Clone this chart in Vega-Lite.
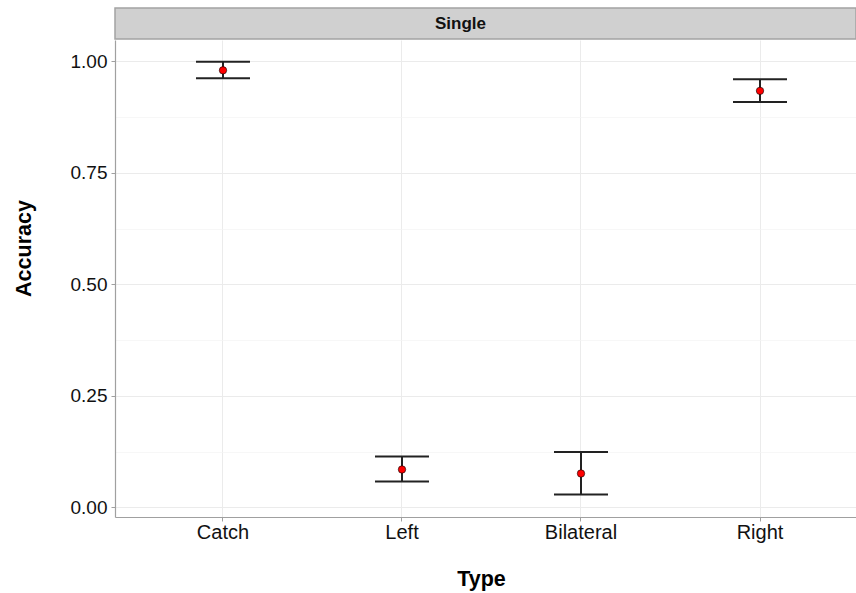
{
  "$schema": "https://vega.github.io/schema/vega-lite/v6.json",
  "autosize": {"type": "pad"},
  "padding": {"left": 13, "top": 7, "right": 0, "bottom": 4},
  "background": "white",
  "config": {
    "font": "Liberation Sans",
    "concat": {"spacing": 0}
  },
  "datasets": {
    "acc": [
      {"Type": "Catch", "mean": 0.980, "lower": 0.962, "upper": 0.999},
      {"Type": "Left", "mean": 0.085, "lower": 0.058, "upper": 0.114},
      {"Type": "Bilateral", "mean": 0.076, "lower": 0.029, "upper": 0.124},
      {"Type": "Right", "mean": 0.934, "lower": 0.909, "upper": 0.960}
    ],
    "strip": [{"panel": "Single"}]
  },
  "vconcat": [
    {
      "width": 741,
      "height": 31,
      "data": {"name": "strip"},
      "view": {"fill": "#d0d0d0", "stroke": "#a3a3a3", "strokeWidth": 1.5},
      "mark": {"type": "text", "fontWeight": "bold", "fontSize": 17, "color": "#111111", "dx": -25},
      "encoding": {"text": {"field": "panel"}}
    },
    {
      "width": 741,
      "height": 477,
      "data": {"name": "acc"},
      "view": {"stroke": null},
      "encoding": {
        "x": {
          "field": "Type",
          "type": "nominal",
          "sort": ["Catch", "Left", "Bilateral", "Right"],
          "scale": {"paddingInner": 0, "paddingOuter": 0.0698, "align": 0.74},
          "axis": {
            "title": "Type",
            "titleX": 366,
            "labelAngle": 0,
            "bandPosition": 0.5,
            "grid": true,
            "gridColor": "#ebebeb",
            "gridWidth": 1,
            "domainColor": "#a0a0a0",
            "domainWidth": 1.2,
            "tickColor": "#a0a0a0",
            "tickSize": 4,
            "labelFontSize": 20,
            "labelColor": "#111111",
            "labelPadding": 1,
            "titleFontSize": 21.5,
            "titleFontWeight": "bold",
            "titleColor": "#000000",
            "titlePadding": 26
          }
        },
        "y": {
          "type": "quantitative",
          "scale": {"domain": [-0.0215, 1.048], "nice": false, "zero": false}
        }
      },
      "layer": [
        {
          "mark": {"type": "rule", "color": "#222222", "strokeWidth": 2},
          "encoding": {
            "y": {
              "field": "lower",
              "type": "quantitative",
              "axis": {
                "title": "Accuracy",
                "titleY": 208,
                "values": [0, 0.125, 0.25, 0.375, 0.5, 0.625, 0.75, 0.875, 1],
                "labelExpr": "(datum.value * 4) % 1 === 0 ? format(datum.value, '.2f') : ''",
                "grid": true,
                "gridColor": {"condition": {"test": "(datum.value * 4) % 1 !== 0", "value": "#f3f3f3"}, "value": "#ebebeb"},
                "gridWidth": {"condition": {"test": "(datum.value * 4) % 1 !== 0", "value": 0.7}, "value": 1},
                "tickOpacity": {"condition": {"test": "(datum.value * 4) % 1 !== 0", "value": 0}, "value": 1},
                "domainColor": "#a0a0a0",
                "domainWidth": 1.2,
                "tickColor": "#a0a0a0",
                "tickSize": 4,
                "labelFontSize": 19,
                "labelColor": "#111111",
                "labelPadding": 4,
                "titleFontSize": 21.5,
                "titleFontWeight": "bold",
                "titleColor": "#000000",
                "titlePadding": 35
              }
            },
            "y2": {"field": "upper"}
          }
        },
        {
          "mark": {"type": "tick", "color": "#222222", "thickness": 2, "size": 54, "opacity": 1},
          "encoding": {"y": {"field": "lower", "type": "quantitative"}}
        },
        {
          "mark": {"type": "tick", "color": "#222222", "thickness": 2, "size": 54, "opacity": 1},
          "encoding": {"y": {"field": "upper", "type": "quantitative"}}
        },
        {
          "mark": {"type": "circle", "fill": "#ff0000", "stroke": "#000000", "strokeWidth": 0.6, "size": 55, "opacity": 1},
          "encoding": {"y": {"field": "mean", "type": "quantitative"}}
        }
      ]
    }
  ]
}
